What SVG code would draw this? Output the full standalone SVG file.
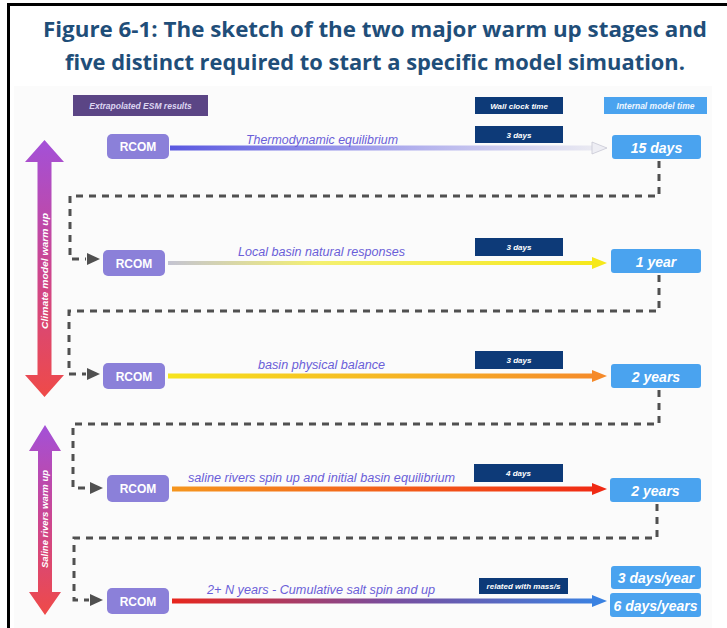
<svg xmlns="http://www.w3.org/2000/svg" width="727" height="628" viewBox="0 0 727 628">
<style>
.title{font-family:"Open Sans","Liberation Sans",sans-serif;font-weight:700;font-size:21px;fill:#1f4e79;}
.rcom rect{fill:#8b80d9;}
.rcom text{font-family:"Liberation Sans",Arial,sans-serif;font-weight:700;font-size:12px;fill:#fff;text-anchor:middle;}
.lbl{font-family:"Liberation Sans",Arial,sans-serif;font-style:italic;font-size:12px;fill:#6a5ed8;}
.wall rect{fill:#0d3a78;}
.wall text{font-family:"Liberation Sans",Arial,sans-serif;font-style:italic;font-weight:700;font-size:8px;fill:#fff;text-anchor:middle;}
.imt rect{fill:#4aa3ef;}
.imt text{font-family:"Liberation Sans",Arial,sans-serif;font-style:italic;font-weight:700;font-size:14px;fill:#fff;text-anchor:middle;}
.dash{fill:none;stroke:#505050;stroke-width:3;stroke-dasharray:7 6;}
.head{fill:#505050;}
.vtext{font-family:"Liberation Sans",Arial,sans-serif;font-style:italic;font-weight:700;font-size:9px;fill:#fff;text-anchor:middle;}
</style>
<defs>
<linearGradient id="g1" gradientUnits="userSpaceOnUse" x1="170" y1="0" x2="600" y2="0"><stop offset="0" stop-color="#5a58e0"/><stop offset="0.5" stop-color="#a8a6ec"/><stop offset="1" stop-color="#ececf2"/></linearGradient>
<linearGradient id="g2" gradientUnits="userSpaceOnUse" x1="168" y1="0" x2="600" y2="0"><stop offset="0" stop-color="#c4c4d2"/><stop offset="0.35" stop-color="#f4f070"/><stop offset="1" stop-color="#f6e81a"/></linearGradient>
<linearGradient id="g3" gradientUnits="userSpaceOnUse" x1="168" y1="0" x2="600" y2="0"><stop offset="0" stop-color="#f6e41e"/><stop offset="1" stop-color="#f58a2a"/></linearGradient>
<linearGradient id="g4" gradientUnits="userSpaceOnUse" x1="172" y1="0" x2="600" y2="0"><stop offset="0" stop-color="#f5961e"/><stop offset="1" stop-color="#f02a14"/></linearGradient>
<linearGradient id="g5" gradientUnits="userSpaceOnUse" x1="172" y1="0" x2="600" y2="0"><stop offset="0" stop-color="#e8261c"/><stop offset="0.5" stop-color="#7a4c9c"/><stop offset="1" stop-color="#3a82e2"/></linearGradient>
<linearGradient id="gv" x1="0" y1="0" x2="0" y2="1"><stop offset="0" stop-color="#a350d8"/><stop offset="0.5" stop-color="#cc4690"/><stop offset="1" stop-color="#ef4a48"/></linearGradient>
</defs>

<rect x="0" y="0" width="727" height="628" fill="#fff"/>
<rect x="14" y="86" width="698" height="542" fill="#fbfbfb"/>
<path d="M8.5,628 V4.5 H727" fill="none" stroke="#000" stroke-width="3"/>

<g id="title">
<text class="title" x="375" y="37" text-anchor="middle" textLength="664" lengthAdjust="spacingAndGlyphs">Figure 6-1: The sketch of the two major warm up stages and</text>
<text class="title" x="375" y="70" text-anchor="middle" textLength="620" lengthAdjust="spacingAndGlyphs">five distinct required to start a specific model simuation.</text>
</g>

<g id="legend-esm">
<rect x="73" y="95" width="135" height="21" fill="#5b4585"/>
<text x="140.5" y="109" font-family="Liberation Sans, Arial, sans-serif" font-style="italic" font-weight="700" font-size="8.5" fill="#ddd6f2" text-anchor="middle">Extrapolated ESM results</text>
</g>
<g id="legend-wall" class="wall">
<rect x="475" y="97" width="88" height="17"/>
<text x="519" y="109">Wall clock time</text>
</g>
<g id="legend-imt">
<rect x="604" y="97" width="103" height="17" fill="#4aa3ef"/>
<text x="655.5" y="109" font-family="Liberation Sans, Arial, sans-serif" font-style="italic" font-weight="700" font-size="8.5" fill="#eef6ff" text-anchor="middle">Internal model time</text>
</g>

<g id="stage-climate">
<polygon points="44.5,140 64,162 51.5,162 51.5,375 64,375 44.5,397 25,375 37.5,375 37.5,162 25,162" fill="url(#gv)"/>
<text class="vtext" transform="translate(47.5,271) rotate(-90)" textLength="116" lengthAdjust="spacingAndGlyphs">Climate model warm up</text>
</g>
<g id="stage-saline">
<polygon points="45,425 61,451 52,451 52,592 61,592 45,615 29,592 38,592 38,451 29,451" fill="url(#gv)"/>
<text class="vtext" transform="translate(48,519) rotate(-90)" textLength="98" lengthAdjust="spacingAndGlyphs">Saline rivers warm up</text>
</g>

<g id="connectors">
<path class="dash" d="M659,161 V196 H70 V259 H86"/>
<polygon class="head" points="87,253 100,259 87,265"/>
<path class="dash" d="M659,275 V311 H69 V374 H86"/>
<polygon class="head" points="87,368 100,374 87,380"/>
<path class="dash" d="M659,390 V424 H73 V488 H89"/>
<polygon class="head" points="90,482 103,488 90,494"/>
<path class="dash" d="M657,504 V538 H74 V600 H89"/>
<polygon class="head" points="90,594 103,600 90,606"/>

<line x1="170" y1="148" x2="595" y2="148" stroke="url(#g1)" stroke-width="5"/>
<polygon points="592,142 607,148 592,154" fill="#eeeef4" stroke="#c8c8d4" stroke-width="0.8"/>
<line x1="168" y1="263" x2="595" y2="263" stroke="url(#g2)" stroke-width="4"/>
<polygon points="592,257 607,263 592,269" fill="#f6e81a"/>
<line x1="168" y1="376" x2="595" y2="376" stroke="url(#g3)" stroke-width="5"/>
<polygon points="592,370 607,376 592,382" fill="#f58a2a"/>
<line x1="172" y1="489" x2="595" y2="489" stroke="url(#g4)" stroke-width="5"/>
<polygon points="592,483 607,489 592,495" fill="#f02a14"/>
<line x1="172" y1="601" x2="595" y2="601" stroke="url(#g5)" stroke-width="5"/>
<polygon points="592,595 607,601 592,607" fill="#3a82e2"/>

<text class="lbl" x="322" y="144" text-anchor="middle" textLength="152" lengthAdjust="spacingAndGlyphs">Thermodynamic equilibrium</text>
<text class="lbl" x="321.5" y="256" text-anchor="middle" textLength="167" lengthAdjust="spacingAndGlyphs">Local basin natural responses</text>
<text class="lbl" x="321.5" y="369" text-anchor="middle" textLength="127" lengthAdjust="spacingAndGlyphs">basin physical balance</text>
<text class="lbl" x="321.5" y="482" text-anchor="middle" textLength="267" lengthAdjust="spacingAndGlyphs">saline rivers spin up and initial basin equilibrium</text>
<text class="lbl" x="321" y="594" text-anchor="middle" textLength="228" lengthAdjust="spacingAndGlyphs">2+ N years - Cumulative salt spin and up</text>
</g>

<g id="rcom1" class="rcom"><rect x="107" y="134" width="62" height="25" rx="5"/><text x="138" y="151">RCOM</text></g>
<g id="rcom2" class="rcom"><rect x="103" y="250" width="62" height="26" rx="5"/><text x="134" y="267.5">RCOM</text></g>
<g id="rcom3" class="rcom"><rect x="103" y="363" width="62" height="26" rx="5"/><text x="134" y="380.5">RCOM</text></g>
<g id="rcom4" class="rcom"><rect x="107" y="475" width="62" height="27" rx="5"/><text x="138" y="493">RCOM</text></g>
<g id="rcom5" class="rcom"><rect x="107" y="588" width="62" height="26" rx="5"/><text x="138" y="605.5">RCOM</text></g>

<g id="wall1" class="wall"><rect x="475" y="126" width="88" height="17"/><text x="519" y="137.5">3 days</text></g>
<g id="wall2" class="wall"><rect x="475" y="238" width="88" height="18"/><text x="519" y="250">3 days</text></g>
<g id="wall3" class="wall"><rect x="475" y="351" width="88" height="18"/><text x="519" y="363">3 days</text></g>
<g id="wall4" class="wall"><rect x="474" y="464" width="89" height="18"/><text x="518.5" y="476">4 days</text></g>
<g id="wall5" class="wall"><rect x="479" y="578" width="89" height="16"/><text x="523.5" y="589">related with mass/s</text></g>

<g id="imt1" class="imt"><rect x="612" y="135" width="89" height="24" rx="3"/><text x="656.5" y="152.5">15 days</text></g>
<g id="imt2" class="imt"><rect x="611" y="249" width="90" height="24" rx="3"/><text x="656" y="266.5">1 year</text></g>
<g id="imt3" class="imt"><rect x="611" y="364" width="90" height="24" rx="3"/><text x="656" y="381.5">2 years</text></g>
<g id="imt4" class="imt"><rect x="610" y="478" width="91" height="24" rx="3"/><text x="655.5" y="495.5">2 years</text></g>
<g id="imt5" class="imt"><rect x="611" y="566" width="90" height="23" rx="3"/><text x="656" y="583">3 days/year</text></g>
<g id="imt6" class="imt"><rect x="610" y="593" width="91" height="24" rx="3"/><text x="655.5" y="610.5">6 days/years</text></g>
</svg>
